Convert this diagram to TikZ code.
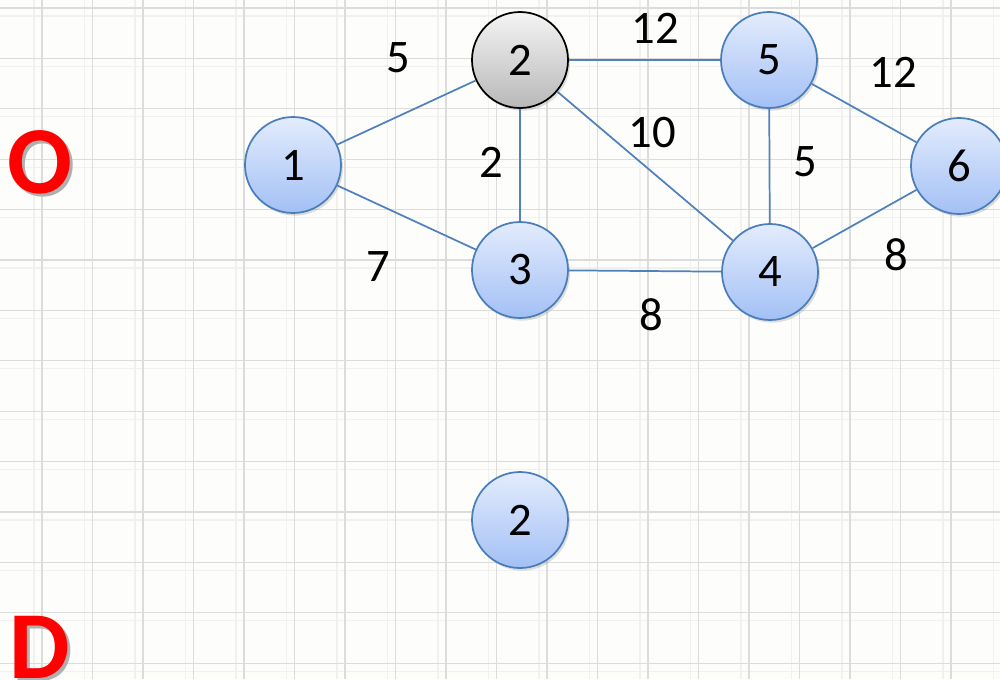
\documentclass[tikz,border=0pt]{standalone}
\usepackage{fontspec}
\setmainfont{Carlito}
\usetikzlibrary{shadows}
\definecolor{edgeblue}{HTML}{4F81BD}
\definecolor{nodeborder}{HTML}{4A7EBB}
\definecolor{ntop}{HTML}{E3ECFD}
\definecolor{nbot}{HTML}{A3C0F5}
\definecolor{gtop}{HTML}{F4F4F4}
\definecolor{gbot}{HTML}{B8B8B8}
\definecolor{gridmaj}{HTML}{DCDCDA}
\definecolor{gridmin}{HTML}{F1F1EF}
\definecolor{bg}{HTML}{FDFDFB}
\definecolor{lshadow}{HTML}{B0B0B0}
\newlength{\unitpx}
\setlength{\unitpx}{0.75pt}
\newcommand{\shadowed}[1]{\rlap{\kern2.2pt\raisebox{-2.2pt}{\color{lshadow}#1}}#1}
\tikzset{
  vnode/.style={circle, minimum size=96\unitpx, inner sep=0pt, draw=nodeborder, line width=1.3pt,
    top color=ntop, bottom color=nbot, font=\fontsize{35}{40}\selectfont,
    drop shadow={shadow xshift=1.5pt, shadow yshift=-2pt, opacity=0.25}},
  gnode/.style={vnode, draw=black, top color=gtop, bottom color=gbot},
  edge/.style={draw=edgeblue, line width=1.3pt},
  wlabel/.style={font=\fontsize{35}{40}\selectfont, inner sep=0pt},
  bigletter/.style={font=\bfseries\fontsize{72}{80}\selectfont, text=red, inner sep=0pt}
}
\begin{document}
\begin{tikzpicture}[x=0.75pt,y=-0.75pt]
\useasboundingbox (0,0) rectangle (1000,679);
\fill[bg] (0,0) rectangle (1000,679);
% minor grid lines
\foreach \i in {0,...,20} {
  \pgfmathsetmacro\gx{42+50.5*\i-8}
  \draw[gridmin, line width=0.9pt] (\gx,0) -- (\gx,679);
}
\foreach \i in {0,...,14} {
  \pgfmathsetmacro\gy{8+50.4*\i+8}
  \draw[gridmin, line width=0.9pt] (0,\gy) -- (1000,\gy);
}
% major grid lines
\foreach \i in {-1,...,20} {
  \pgfmathsetmacro\gx{42+50.5*\i}
  \draw[gridmaj, line width=1pt] (\gx,0) -- (\gx,679);
}
\foreach \i in {0,...,14} {
  \pgfmathsetmacro\gy{8+50.4*\i}
  \draw[gridmaj, line width=1pt] (0,\gy) -- (1000,\gy);
}
% nodes
\node[vnode] (n1) at (293,165) {1};
\node[gnode] (n2) at (520,60) {2};
\node[vnode] (n5) at (769,60) {5};
\node[vnode] (n6) at (959,166) {6};
\node[vnode] (n3) at (520,270) {3};
\node[vnode] (n4) at (770,272) {4};
\node[vnode] (n2b) at (520,520) {2};
% edges
\draw[edge] (n1) -- (n2);
\draw[edge] (n1) -- (n3);
\draw[edge] (n2) -- (n3);
\draw[edge] (n2) -- (n5);
\draw[edge] (n2) -- (n4);
\draw[edge] (n5) -- (n4);
\draw[edge] (n5) -- (n6);
\draw[edge] (n3) -- (n4);
\draw[edge] (n4) -- (n6);
% weights
\node[wlabel] (w12) at (398,58) {5};
\node[wlabel] (w25) at (655,28) {12};
\node[wlabel] (w56) at (893,72) {12};
\node[wlabel] (w23) at (491,162) {2};
\node[wlabel] (w24) at (652,133) {10};
\node[wlabel] (w54) at (805,162) {5};
\node[wlabel] (w13) at (378,267) {7};
\node[wlabel] (w34) at (651,315) {8};
\node[wlabel] (w46) at (896,255) {8};
% letters
\node[bigletter] (O) at (40,164) {\shadowed{O}};
\node[bigletter, anchor=north] (D) at (40,616) {\shadowed{D}};
\end{tikzpicture}
\end{document}
